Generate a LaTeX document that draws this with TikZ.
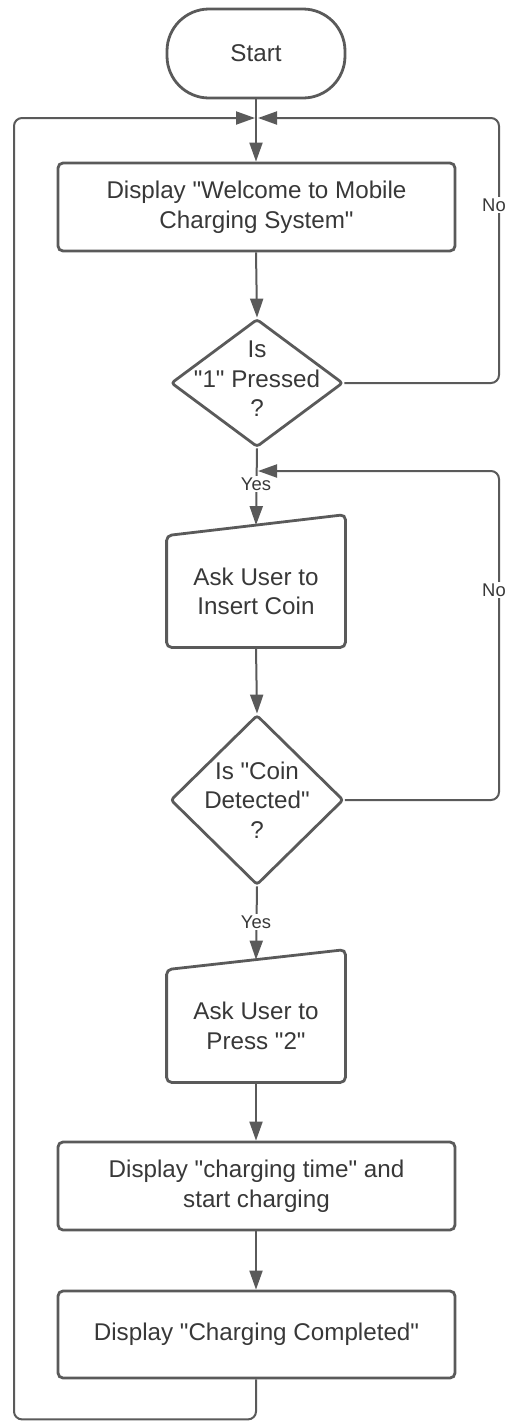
\documentclass[tikz,border=0pt]{standalone}
\usepackage{fontspec}
\setmainfont{Liberation Sans}[Ligatures=TeXOff]
\usetikzlibrary{arrows.meta,shapes.geometric,calc}
\definecolor{ln}{HTML}{5A5A5A}
\definecolor{tx}{HTML}{383838}
\begin{document}
\begin{tikzpicture}[x=0.5pt,y=-0.5pt,
  mainfont/.style={font=\fontsize{12.1}{14.75}\selectfont},
  procbox/.style={draw=ln,line width=1.4pt,rounded corners=2.5pt,text=tx,mainfont,align=center,inner sep=0pt,minimum width=198.5pt},
  termbox/.style={draw=ln,line width=1.4pt,rounded corners=21pt,text=tx,mainfont,align=center,inner sep=0pt,minimum width=89pt,minimum height=44.5pt},
  decision/.style={draw=ln,line width=1.4pt,shape=diamond,rounded corners=1.5pt,inner sep=0pt},
  dtext/.style={text=tx,mainfont,align=center,inner sep=0pt},
  mibox/.style={text=tx,mainfont,align=center,inner sep=0pt,minimum width=89pt},
  shapeline/.style={draw=ln,line width=1.4pt,rounded corners=2.5pt},
  conn/.style={draw=ln,line width=1pt,-{Triangle[length=9.5pt,width=6.5pt]}},
  lbl/.style={fill=white,text=tx,font=\fontsize{9.2}{11}\selectfont,inner sep=1pt}
]
\useasboundingbox (0,0) rectangle (508,1421);
\clip (0,0) rectangle (508,1421);

% nodes
\node[termbox] (start) at (256,53.5) {Start};
\node[procbox,minimum height=44pt] (b1) at (256.5,207) {Display "Welcome to Mobile\\Charging System"};
\node[decision,minimum width=86pt,minimum height=64pt,
      label={[dtext,yshift=2pt]center:{Is\\"1" Pressed\\?}}] (d1) at (257,383) {};
\node[mibox,minimum height=55.5pt] (m1) at (256,591.5) {Ask User to\\Insert Coin};
\draw[shapeline] (m1.south west) -- (m1.north west) -- ($(m1.north east)+(0,-21)$) -- (m1.south east) -- cycle;
\node[decision,minimum width=86.5pt,minimum height=85pt,
      label={[dtext]center:{Is "Coin\\Detected"\\?}}] (d2) at (257,800) {};
\node[mibox,minimum height=56pt] (m2) at (256,1026) {Ask User to\\Press "2"};
\draw[shapeline] (m2.south west) -- (m2.north west) -- ($(m2.north east)+(0,-20)$) -- (m2.south east) -- cycle;
\node[procbox,minimum height=44pt] (b3) at (256.5,1186) {Display "charging time" and\\start charging};
\node[procbox,minimum height=43.5pt] (b4) at (256.5,1334.5) {Display "Charging Completed"};

\coordinate (j1) at (256,118);
\coordinate (j2) at (256,471);

% connectors
\draw[conn] (start.south) -- (start.south |- b1.north);
\draw[conn,rounded corners=4pt] (b4.south -| start.south) -- ++(0,40) -| (14,118) -- ([xshift=-0.5pt]j1);
\draw[conn,rounded corners=4pt] (d1.east) -| (499,118) -- ([xshift=1pt]j1);
\node[lbl] (no1) at (494,205) {No};
\draw[conn] (start.south |- b1.south) -- (d1.north);
\draw[conn] (d1.south) -- ($(m1.north)+(0,-10.5)$);
\node[lbl] (yes1) at (256,484) {Yes};
\draw[conn,rounded corners=4pt] (d2.east) -| (499,471) -- ([xshift=1pt]j2);
\node[lbl] (no2) at (494,590) {No};
\draw[conn] (m1.south) -- (d2.north);
\draw[conn] (d2.south) -- ($(m2.north)+(0,-10)$);
\node[lbl] (yes2) at (256,922) {Yes};
\draw[conn] (m2.south) -- (m2.south |- b3.north);
\draw[conn] (m2.south |- b3.south) -- (m2.south |- b4.north);
\end{tikzpicture}
\end{document}
